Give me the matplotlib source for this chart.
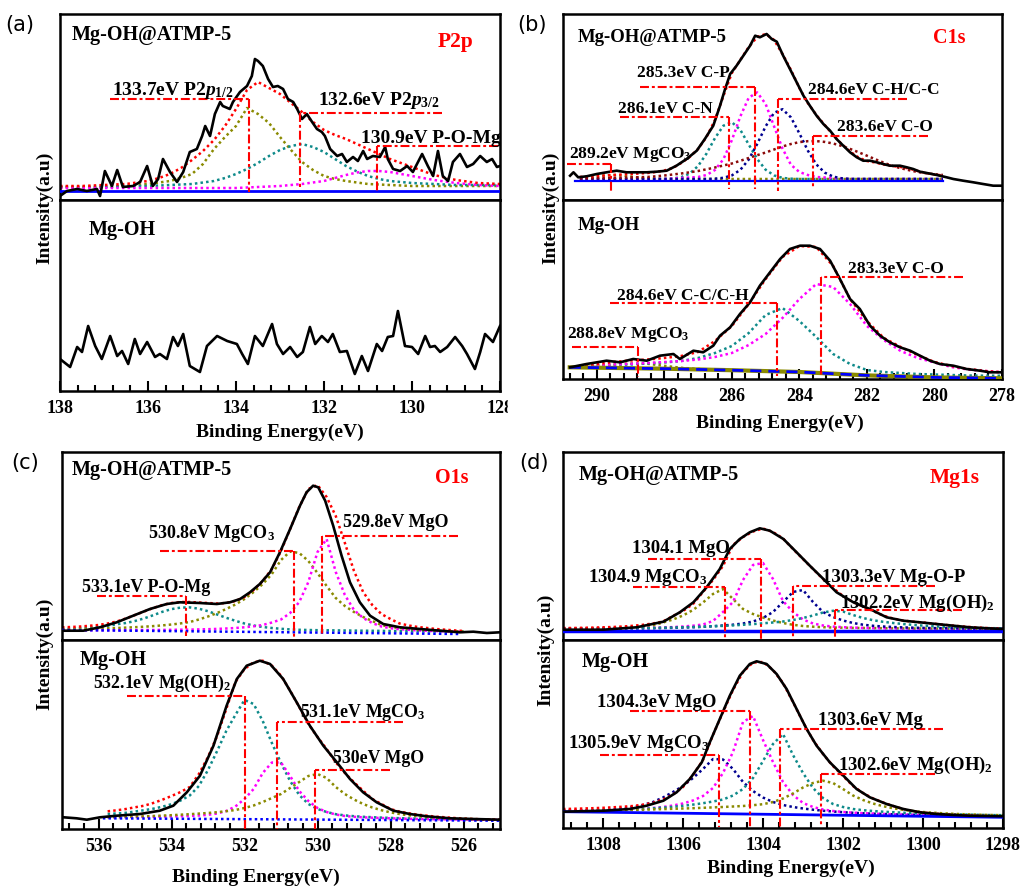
import matplotlib
matplotlib.use("Agg")
import matplotlib.pyplot as plt
from matplotlib.ticker import MultipleLocator, StrMethodFormatter
from matplotlib.patches import Rectangle

plt.rcParams['font.family'] = ['Liberation Serif', 'DejaVu Serif']
plt.rcParams['font.weight'] = 'bold'
plt.rcParams['mathtext.fontset'] = 'custom'
plt.rcParams['mathtext.rm'] = 'Liberation Serif:bold'
plt.rcParams['mathtext.it'] = 'Liberation Serif:italic:bold'
plt.rcParams['mathtext.bf'] = 'Liberation Serif:bold'
plt.rcParams['axes.linewidth'] = 1.8

# ====================== DATA ======================
# ---------- (a) P2p ----------
a_top_E = [138.00,137.84,137.61,137.39,137.16,137.09,136.98,136.82,136.70,136.57,136.34,136.18,136.02,135.89,135.77,135.66,135.50,135.34,135.20,135.05,134.89,134.77,134.70,134.59,134.48,134.36,134.30,134.14,134.07,133.91,133.75,133.64,133.57,133.50,133.39,133.27,133.16,133.05,132.93,132.82,132.70,132.61,132.50,132.39,132.27,132.16,132.05,131.98,131.86,131.70,131.59,131.48,131.34,131.23,131.11,131.02,130.89,130.73,130.61,130.55,130.43,130.27,130.11,129.98,129.77,129.64,129.52,129.41,129.30,129.18,129.07,128.91,128.75,128.61,128.45,128.30,128.18,128.07,128.00]
a_top_I = [4,9,11,9,11,4,29,14,30,13,14,18,34,14,21,41,28,18,28,48,51,64,74,64,86,98,94,91,98,108,114,124,141,139,134,121,113,114,111,101,98,91,81,86,78,71,68,64,51,44,46,38,43,39,49,41,44,43,53,41,31,29,34,28,46,34,24,49,24,19,38,46,33,36,44,38,41,33,34]
a_fit_E = [138.0,137.75,137.5,137.25,137.0,136.75,136.5,136.25,136.0,135.75,135.5,135.25,135.0,134.75,134.5,134.25,134.0,133.75,133.5,133.25,133.0,132.75,132.5,132.25,132.0,131.75,131.5,131.25,131.0,130.75,130.5,130.25,130.0,129.75,129.5,129.25,129.0,128.75,128.5,128.25,128.0]
a_p12 = [13,13,13,13,13,13.5,14,15,16,17.5,19,22,26,36,51,63,74,92,86,77,63,50,38,30,24,21,19,17.5,16,15.5,15,14.5,14,14,14,14,14,14,14,14,14]
a_p32 = [13,13,13,13,13,13.5,14,14,14,14.5,15,15.5,16,17.5,19,22,26,31,37,44,50,54,56,53,48,41,34,28.5,24,21,19,18,17,16.5,16,15.5,15,15,15,15,15]
a_pomg = [12,12,12,12,12,12,12,12,12,12,12,12,12,12,12,12,12,12.5,13,13.5,14,15,16,17.5,19,22,25,27.5,29,29,28,26,24,22,20,18.5,17,16,15,14.5,14]
a_env = [14,14,14,14.5,15,15.5,16,17.5,19,22,26,32,40,49,60,74,91,110,118,112,106,97,88,78,70,65,61,56,51,46,41,37,33,29,25,22.5,20,18.5,17,16.5,16]
a_base_E = [138.0, 128.0]
a_base_I = [9.5, 9.5]
a_bot_E = [138.00,137.77,137.61,137.50,137.36,137.20,137.05,136.86,136.70,136.59,136.45,136.30,136.18,136.02,135.84,135.73,135.57,135.43,135.32,135.20,135.05,134.82,134.66,134.43,134.20,133.98,133.86,133.73,133.57,133.39,133.18,133.07,132.93,132.77,132.61,132.48,132.32,132.20,132.05,131.91,131.80,131.64,131.48,131.30,131.14,131.00,130.80,130.68,130.55,130.43,130.32,130.16,130.00,129.86,129.70,129.59,129.48,129.36,129.20,129.02,128.86,128.75,128.57,128.45,128.34,128.16,128.00]
a_bot_I = [32,24,44,39,65,45,32,55,35,40,27,52,37,49,34,37,32,54,45,57,25,19,45,55,50,47,37,27,55,45,67,47,37,44,34,39,64,47,55,49,57,39,40,17,35,20,47,40,54,55,80,45,44,37,55,44,45,39,44,54,45,37,22,39,57,49,65]
a_peak_E = [133.7, 132.55, 130.8]
a_peak_lbl = [r'133.7eV P2$p_{1/2}$', r'132.6eV P2$p_{3/2}$', '130.9eV P-O-Mg']

# ---------- (b) C1s ----------
b_top_E = [290.79,290.69,290.55,290.30,290.00,289.71,289.41,289.12,288.82,288.52,288.23,287.93,287.64,287.34,287.04,286.80,286.55,286.35,286.20,286.05,285.86,285.66,285.46,285.31,285.17,284.97,284.82,284.67,284.48,284.28,284.08,283.88,283.69,283.49,283.29,283.09,282.90,282.70,282.50,282.30,282.11,281.91,281.71,281.52,281.32,281.02,280.82,280.63,280.43,280.23,279.93,279.64,279.44,279.15,278.85,278.56,278.26,277.99]
b_top_I = [24.3,27.7,22.7,23.7,26,27.7,29.3,27.7,27.7,27.7,28.3,29.3,34.3,41,49.3,61,74.3,94.3,111,126,134.3,144.3,154.3,164.3,162.7,166,161,158.3,144.3,131,117.7,104.3,94.3,84.3,76,69.3,61,54.3,47.7,42.7,39.3,39.3,37.7,36,34.3,34.3,32.7,31,28.3,27,25,22.7,21,19.3,17.7,16,14.3,14.3]
b_fit_E = [290.5,290.25,290.0,289.75,289.5,289.25,289.0,288.75,288.5,288.25,288.0,287.75,287.5,287.25,287.0,286.75,286.5,286.25,286.0,285.75,285.5,285.25,285.0,284.75,284.5,284.25,284.0,283.75,283.5,283.25,283.0,282.75,282.5,282.25,282.0,281.75,281.5,281.25,281.0,280.75,280.5,280.25,280.0,279.75]
b_mgco3 = [21.6,22.4,23.5,24.6,25.0,24.6,23.5,22.4,21.6,21.2,21,21,21,21,21,21,21,21,21,21,21,21,21,21,21,21,21,21,21,21,21,21,21,21,21,21,21,21,21,21,21,21,21,21]
b_cn = [21,21,21,21,21,21,21,21,21,21,21,21.5,22.8,26.4,34,46.4,61.9,74.3,77.8,70.2,55.5,41,30.3,24.6,22.1,21.3,21,21,21,21,21,21,21,21,21,21,21,21,21,21,21,21,21,21]
b_cp = [21,21,21,21,21,21,21,21,21,21,21,21.5,22,22.5,23,25,30,40.8,59.8,83.5,102.3,107.6,96.1,73.7,51.5,35.2,28,25,23,22.5,22,21.5,21,21,21,21,21,21,21,21,21,21,21,21]
b_ch = [21,21,21,21,21,21,21,21,21,21,21,21,21,21,21,21,21.3,22.2,24.6,30.1,40.5,56,73.6,87.2,90.8,82.6,66.6,49.4,35.7,27.4,23.4,21.7,21,21,21,21,21,21,21,21,21,21,21,21]
b_co = [21.5,21.6,21.8,22.0,22.2,22.4,22.6,22.8,23.0,23.7,24.5,25.5,26.5,27.7,29.0,30.7,32.5,34.5,36.5,39.2,42.0,44.8,47.5,50.5,53.5,56.0,57.9,58.8,58.9,58.1,56.5,54.1,51.1,47.8,44.3,40.7,37.3,34.1,31.8,29.8,28.0,26.8,25.8,25.0]
b_env = [23,23.5,24,24.5,25,25.5,26,26.5,27,28,29.5,32,37,43,51,63,80,104,127,140,153,163,166,160,146,130,112,97,85,75,65,56,48.5,42.5,39,37.5,35.5,34,33,31.5,29,27,25.5,24.5]
b_base_E = [290.64, 279.74]
b_base_I = [19.3, 19.3]
b_peak_E = [289.59, 286.08, 285.31, 284.62, 283.59]
b_peak_lbl = [r'289.2eV MgCO$_3$', '286.1eV C-N', '285.3eV C-P', '284.6eV C-H/C-C', '283.6eV C-O']

b_bot_E = [290.79,290.30,289.71,289.31,288.92,288.52,288.13,287.73,287.54,287.14,286.85,286.55,286.35,286.05,285.76,285.46,285.17,284.87,284.57,284.28,283.98,283.69,283.39,283.09,282.80,282.50,282.21,281.91,281.61,281.32,281.02,280.72,280.43,280.13,279.84,279.44,279.05,278.65,278.36,277.99]
b_bot_I = [11.7,15,18.3,16.7,20,18.3,23.3,25,20,28.3,26.7,33.3,43.3,51.7,65,76.7,93.3,106.7,120,130,133.3,133.3,130,118.3,100,80,70,53.3,43.3,36.7,31.7,28.3,23.3,18.3,15,13.3,10,8.3,6.7,6.7]
b2_fit_E = [290.5,290.0,289.5,289.0,288.5,288.0,287.5,287.0,286.5,286.0,285.5,285.0,284.5,284.0,283.5,283.0,282.5,282.0,281.5,281.0,280.5,280.0,279.5,279.0,278.5,278.0]
b2_cc = [13,13.5,14,14.5,15.5,16.5,18,21,26,33,46,64,71,58,42,25,15,9,7,6,5,4.5,4,3.5,3.3,3.2]
b2_co = [13.5,14,14.5,15.2,16,17,18,19.5,22,26,34,45,61,80,95,92,75,53,39,28,21,16.5,12,9.5,8,6.7]
b2_mgco3 = [12.5,13.2,14.2,15.5,15.2,13.2,11.2,10,9.3,8.9,8.5,8,7.4,6.7,6,5.2,4.5,3.9,3.3,2.8,2.3,1.9,1.5,1.2,1.0,0.8]
b2_env = [13,15,17,18.5,19.5,21,23,27,38,53,75,100,122,133,132,113,80,58,41,32,24,17,13,10,8,6.7]
b2_base_E = [290.8, 288.0, 286.0, 284.0, 282.0, 280.0, 278.0]
b2_base_I = [11.7, 10.3, 8.8, 7.0, 3.6, 1.6, 0.7]
b2_peak_E = [288.77, 284.65, 283.36]
b2_peak_lbl = [r'288.8eV MgCO$_3$', '284.6eV C-C/C-H', '283.3eV C-O']

# ---------- (c) O1s ----------
c_top_E = [537.0,536.42,535.96,535.50,535.05,534.59,534.13,533.77,533.22,532.76,532.40,532.12,531.85,531.58,531.30,531.03,530.75,530.48,530.30,530.12,529.98,529.79,529.57,529.34,529.11,528.84,528.56,528.20,527.74,527.19,526.64,526.10,525.73,525.36,525.00]
c_top_I = [9.3,9.3,12.7,17.7,24.3,31,36,37.7,37,36,37.7,41,47.7,56,67.7,87.7,111,134.3,147.7,154.3,152.7,139.3,114.3,84.3,57.7,37.7,24.3,16,12.7,11,9.3,7.7,8.3,7,7.7]
c_fit_E = [537.0,536.75,536.5,536.25,536.0,535.75,535.5,535.25,535.0,534.75,534.5,534.25,534.0,533.75,533.5,533.25,533.0,532.75,532.5,532.25,532.0,531.75,531.5,531.25,531.0,530.75,530.5,530.25,530.0,529.75,529.5,529.25,529.0,528.75,528.5,528.25,528.0,527.75,527.5,527.25,527.0,526.75,526.5,526.25,526.0]
c_pomg = [11,11.3,11.8,12.4,13.2,14.2,15.8,17,19,21.6,24.8,28.2,30.9,32.4,32.6,31.3,28.8,25.5,22.2,19.2,16.5,14.5,13,12,11.2,10.6,10.2,10,9.8,9.7,9.6,9.5,9.4,9.3,9.2,9.1,9,8.9,8.8,8.7,8.6,8.5,8.4,8.3,8.2]
c_mgco3 = [10.5,10.7,10.9,11.1,11.4,11.7,12,12.4,12.8,13.3,13.9,14.6,15.5,16.6,18,20.5,23.5,27,31,35.5,41,48,56,66,80,88.5,87,79,67,54,42,34,28,23,19,15,13,12,11,10.3,9.8,9.4,9,8.7,8.5]
c_mgo = [9.8,9.8,9.8,9.8,9.8,9.8,9.8,9.9,9.9,10,10,10.1,10.2,10.3,10.4,10.6,10.8,11.1,11.5,12,12.7,13.7,15,17.5,20.5,27,38,58,88,101,68,45,30,22,17,13.5,11.8,10.8,10.2,9.6,9.2,8.9,8.6,8.4,8.2]
c_env = [12.7,13,13.5,14.2,15,16.5,18.5,21.5,25,28.5,32,35,37,38,38,37.5,37,36.5,37,39,43,50,59,71,89,111,133,151,155,143,124,97,69,48,35,26,21,16.5,14.5,13,12,11,10.3,9.6,9]
c_base_E = [537.0, 526.1]
c_base_I = [10, 6]
c_peak_E = [533.61, 530.64, 529.87]
c_peak_lbl = ['533.1eV P-O-Mg', r'530.8eV MgCO$_3$', '529.8eV MgO']

c_bot_E = [536.96,536.60,536.32,535.96,535.50,534.86,534.32,533.95,533.58,533.22,532.85,532.49,532.21,531.94,531.58,531.30,530.94,530.57,530.21,529.84,529.47,529.11,528.75,528.38,527.92,527.47,527.01,526.37,525.73,525.00]
c_bot_I = [11.7,10.7,9.3,11.7,13.3,15,18.3,23.3,36.7,53.3,83.3,123.3,150,163.3,168.3,165,150,126.7,103.3,83.3,66.7,50,36.7,26.7,18.3,15,12.7,10.7,10,9.3]
c2_fit_E = [535.75,535.5,535.25,535.0,534.75,534.5,534.25,534.0,533.75,533.5,533.25,533.0,532.75,532.5,532.25,532.0,531.75,531.5,531.25,531.0,530.75,530.5,530.25,530.0,529.75,529.5,529.25,529.0,528.75,528.5,528.25,528.0,527.75,527.5,527.25,527.0,526.75,526.5,526.25,526.0,525.75,525.5,525.25,525.0]
c2_mgoh2 = [15,15.5,16.2,17.5,18.8,20.3,22.3,24.8,28.5,33.5,43,59,78,98,114,129,125,108,86,66,48,34,25,20,17,14.8,13.6,12.8,12.2,11.8,11.4,11.1,10.8,10.6,10.4,10.2,10,9.9,9.8,9.7,9.6,9.5,9.4,9.3]
c2_mgco3 = [11.7,11.8,11.9,12,12.1,12.2,12.4,12.6,12.8,13.1,13.5,14.2,15.5,18,22.5,30,40,56,66.5,66.5,53,38,28,21,17,14.5,13,12.2,11.7,11.3,11,10.7,10.4,10.2,10,9.9,9.8,9.7,9.6,9.5,9.5,9.4,9.3,9.3]
c2_mgo = [11.7,11.9,12.1,12.4,12.7,13,13.4,13.8,14.3,14.8,15.4,16,16.8,17.8,19,21,23.5,27,31,35,41,47,53,55,51,42,35,29.5,25,21.5,18.8,16.6,15,13.7,12.8,12,11.4,10.9,10.5,10.2,9.9,9.7,9.5,9.3]
c2_env = [17.7,18.7,20,21.7,23.3,26,29.3,33,37,42,55,72,93,120,147,160,166.7,168.3,163.3,153.3,138.3,122,105,92,80,66.7,56,46.7,38.3,30,25,20,17.3,15.7,14.3,13.3,12.3,11.7,11,10.3,10,9.7,9.3,9.3]
c2_base_E = [535.88, 525.0]
c2_base_I = [10.7, 8.3]
c2_peak_E = [531.99, 531.12, 530.07]
c2_peak_lbl = [r'532.1eV Mg(OH)$_2$', r'531.1eV MgCO$_3$', '530eV MgO']

# ---------- (d) Mg1s ----------
d_top_E = [1309.0,1307.99,1307.16,1306.49,1306.08,1305.74,1305.41,1305.08,1304.83,1304.58,1304.33,1304.08,1303.83,1303.49,1303.16,1302.83,1302.49,1302.16,1301.74,1301.33,1300.91,1300.49,1300.08,1299.66,1299.24,1298.83,1298.41,1297.99]
d_top_I = [10.3,10.3,12.7,18.3,27.7,37.7,52.7,71,91,101,107.7,111.7,109.3,101,87.7,74.3,61,47.7,37.7,31,22.7,19.3,17.7,16,14.3,12.7,11.7,11]
d_fit_E = [1309.0,1308.75,1308.5,1308.25,1308.0,1307.75,1307.5,1307.25,1307.0,1306.75,1306.5,1306.25,1306.0,1305.75,1305.5,1305.25,1305.0,1304.75,1304.5,1304.25,1304.0,1303.75,1303.5,1303.25,1303.0,1302.75,1302.5,1302.25,1302.0,1301.75,1301.5,1301.25,1301.0,1300.75,1300.5,1300.25,1300.0,1299.75,1299.5,1299.25,1299.0,1298.75,1298.5,1298.25,1298.0]
d_mgco3 = [11.5,11.5,11.6,11.7,11.8,12,12.3,12.7,13.2,14.5,17.5,20.5,24.5,30,37.5,46,51,41,31,26,22.5,19.5,17,15.2,14,13.3,12.8,12.5,12.3,12.1,12,11.9,11.8,11.7,11.6,11.5,11.5,11.4,11.4,11.3,11.3,11.2,11.2,11.2,11.1]
d_mgo = [11.3,11.3,11.4,11.4,11.5,11.6,11.7,11.8,12,12.2,12.5,12.9,13.5,14.3,15.5,19,28,38,60,75,77,61,39,28,20.5,16.5,14.5,13.4,12.8,12.4,12.1,11.9,11.8,11.7,11.6,11.5,11.4,11.4,11.3,11.3,11.2,11.2,11.2,11.1,11.1]
d_mgop = [11.2,11.2,11.2,11.3,11.3,11.4,11.5,11.6,11.7,11.8,12,12.2,12.5,12.8,13.2,13.8,14.5,15.3,16.5,18.5,22,28,38,48,50,38,28,23,19.5,17,15.3,14.2,13.5,13,12.6,12.3,12.1,11.9,11.8,11.7,11.6,11.5,11.5,11.4,11.4]
d_mgoh2 = [11.2,11.2,11.3,11.3,11.4,11.5,11.6,11.7,11.8,12,12.2,12.4,12.7,13,13.3,13.7,14.1,14.6,15.2,15.9,16.7,17.5,18.5,20,22,24.5,27.5,29.2,28.5,25,22,19.8,18.2,17,16,15.1,14.4,13.8,13.3,12.9,12.5,12.2,12,11.8,11.7]
d_env = [12,12,12.2,12.4,12.7,13,13.5,14.2,15.2,16.5,18.5,24,29,36,48,60,74,95,103,108.5,111.5,108,101.5,91,81,71,61,52,44,38,33.5,29,24.5,21.5,19.5,18.3,17.5,16.4,15.3,14.4,13.5,12.8,12.2,11.7,11.2]
d_base_E = [1309.0, 1298.0]
d_base_I = [9.3, 9.3]
d_peak_E = [1304.06, 1304.95, 1303.24, 1302.2]
d_peak_lbl = ['1304.1 MgO', r'1304.9 MgCO$_3$', '1303.3eV Mg-O-P', r'1302.2eV Mg(OH)$_2$']

d_bot_E = [1309.0,1307.99,1307.33,1306.91,1306.49,1306.16,1305.83,1305.53,1305.33,1305.08,1304.83,1304.58,1304.33,1304.16,1303.91,1303.66,1303.41,1303.16,1302.91,1302.66,1302.33,1301.99,1301.66,1301.33,1300.91,1300.49,1300.08,1299.66,1299.24,1298.83,1297.99]
d_bot_I = [16.3,17.3,19,22.3,27.3,35.7,49,65.7,85.7,109,132.3,152.3,164,166.7,164,154,139,119,99,82.3,65.7,52.3,39,30.7,24,19,15.7,14,13,12.3,11.7]
d2_mgco3 = [17.3,17.4,17.6,17.8,18.1,18.5,19.5,21,23,26,30.5,36,42,50,59,69,68.5,59,46,37,30.5,26,23,21,19.5,18.3,17.3,16.5,15.8,15.2,14.7,14.3,14,13.7,13.4,13.2,13,12.8,12.6,12.4,12.2,12,11.9,11.8,11.7]
d2_mgo = [17.3,17.4,17.5,17.6,17.8,18,18.3,18.7,19.2,20,21,22.5,24.5,27.5,32,40,55,76,106,112,88,66,46,33,25,21,18.5,17,16,15.3,14.8,14.4,14,13.7,13.4,13.2,13,12.8,12.6,12.4,12.2,12,11.9,11.8,11.7]
d2_mg = [16.3,16.5,16.7,17,17.3,17.7,18.1,18.6,19.1,19.7,20.4,21.2,22.2,23.4,24.8,26.5,28.5,32.5,39,50,67,84,94,73,55,40,30,24,21,19,17.8,17,16.3,15.8,15.3,15,14.6,14.3,14,13.7,13.5,13.3,13.1,12.9,12.8]
d2_mgoh2 = [17,17.1,17.2,17.3,17.4,17.6,17.8,18,18.3,18.6,18.9,19.2,19.5,19.8,20.2,20.6,21,21.5,22,22.8,23.8,26,29.5,34.5,40.5,45,47.3,45,39,32.5,28,24.5,21.8,19.8,18.2,17,16,15.3,14.7,14.2,13.8,13.5,13.2,13,12.8]
d2_env = [19,19.2,19.5,19.8,20.2,20.7,21.3,22,23.3,25.2,28.5,33.5,41,53,68,93,116,138,156,165.5,166,158,145,126,106,88,74,62,52,42,35,29.5,25.5,22,19,17,15.5,14.5,13.8,13.2,12.7,12.3,12,11.8,11.6]
d2_base_E = [1309.0, 1298.0]
d2_base_I = [16.3, 10.7]
d2_peak_E = [1304.33, 1305.1, 1303.58, 1302.55]
d2_peak_lbl = ['1304.3eV MgO', r'1305.9eV MgCO$_3$', '1303.6eV Mg', r'1302.6eV Mg(OH)$_2$']

# ====================== STYLE / LAYOUT ======================
OLIVE = '#8a8a00'
TEAL = '#0e8a8a'
MAG = '#ff00ff'
NAVY = '#000090'
MAROON = '#8b0a0a'
RED = '#ff0000'
BLUE = '#0000ff'

W, H = 1021, 887
fig = plt.figure(figsize=(W / 100, H / 100), dpi=100)


def add_ax(x0, y0, x1, y1, xlim, bottom):
    ax = fig.add_axes([x0 / W, 1 - y1 / H, (x1 - x0) / W, (y1 - y0) / H])
    ax.set_xlim(*xlim)
    ax.set_ylim(0, y1 - y0)
    ax.set_yticks([])
    if bottom:
        ax.xaxis.set_major_locator(MultipleLocator(2))
        ax.xaxis.set_minor_locator(MultipleLocator(0.4))
        ax.xaxis.set_major_formatter(StrMethodFormatter('{x:.0f}'))
        ax.tick_params(axis='x', which='both', direction='in', top=False,
                       bottom=True, width=1.5, labelsize=13, pad=6)
        ax.tick_params(axis='x', which='major', length=7)
        ax.tick_params(axis='x', which='minor', length=4)
        for lb in ax.get_xticklabels():
            lb.set_fontweight('bold')
    else:
        ax.set_xticks([])
    return ax


DOT = (0, (1, 1.25))
DASHDOT = (0, (4.3, 1.4, 1.4, 1.4))


def comp(ax, E, I, color, lw=1.8):
    ax.plot(E, I, color=color, ls=DOT, lw=lw, zorder=2)


def raw(ax, E, I):
    ax.plot(E, I, color='black', lw=1.9, zorder=4, solid_joinstyle='round')


def marks(ax, peaks, labels, layout, fs):
    for e, lbl, (ytop, xend, ybot, tx, ty) in zip(peaks, labels, layout):
        ax.plot([xend, e], [ytop, ytop], color=RED, lw=1.5, ls=DASHDOT, zorder=5)
        ax.plot([e, e], [ytop, ybot], color=RED, lw=1.5, ls=DASHDOT, zorder=5)
        ax.text(tx, ty, lbl, fontsize=fs, ha='left', va='baseline', zorder=6,
                fontweight='bold')


def name(ax, x, y, s, fs=14.5, color='black'):
    ax.text(x, y, s, fontsize=fs, ha='left', va='baseline', color=color,
            fontweight='bold', zorder=6)


# ---------- (a) ----------
ax = add_ax(60, 15, 500, 201, (138, 128), False)
ax.plot(a_base_E, a_base_I, color=BLUE, lw=2, zorder=3)
comp(ax, a_fit_E, a_p12, OLIVE)
comp(ax, a_fit_E, a_p32, TEAL)
comp(ax, a_fit_E, a_pomg, MAG)
comp(ax, a_fit_E, a_env, RED)
raw(ax, a_top_E, a_top_I)
marks(ax, a_peak_E, a_peak_lbl,
      [(101, 136.86, 8, 136.82, 106), (87, 129.32, 13, 132.14, 96),
       (54, 128.05, 8, 131.15, 58.3)], 14)
name(ax, 137.73, 161, 'Mg-OH@ATMP-5')
name(ax, 129.41, 154.3, 'P2p', fs=15.5, color=RED)

ax = add_ax(60, 201, 500, 392, (138, 128), True)
raw(ax, a_bot_E, a_bot_I)
name(ax, 137.34, 157, 'Mg-OH')

# ---------- (b) ----------
ax = add_ax(563, 15, 1002, 201, (291, 278), False)
ax.plot(b_base_E, b_base_I, color=BLUE, lw=1.6, zorder=3)
comp(ax, b_fit_E, b_mgco3, OLIVE)
comp(ax, b_fit_E, b_cn, TEAL)
comp(ax, b_fit_E, b_cp, MAG)
comp(ax, b_fit_E, b_ch, NAVY)
comp(ax, b_fit_E, b_co, MAROON)
comp(ax, b_fit_E, b_env, RED)
raw(ax, b_top_E, b_top_I)
marks(ax, b_peak_E, b_peak_lbl,
      [(36, 290.89, 9.3, 290.81, 42.7), (82.7, 289.31, 11, 289.36, 87.7),
       (112.7, 288.72, 11, 288.82, 124.3), (101, 280.82, 9, 283.74, 106.7),
       (64.3, 280.18, 11, 282.9, 70)], 12.5)
name(ax, 290.55, 159.3, 'Mg-OH@ATMP-5', fs=13.5)
name(ax, 280.03, 157.7, 'C1s', fs=14.5, color=RED)

ax = add_ax(563, 201, 1002, 380, (291, 278), True)
ax.plot(b2_base_E, b2_base_I, color=OLIVE, lw=3, zorder=3)
ax.plot(b2_base_E, b2_base_I, color=BLUE, lw=2, ls=(0, (4, 2.5)), zorder=3)
comp(ax, b2_fit_E, b2_mgco3, OLIVE)
comp(ax, b2_fit_E, b2_cc, TEAL)
comp(ax, b2_fit_E, b2_co, MAG)
comp(ax, b2_fit_E, b2_env, RED)
raw(ax, b_bot_E, b_bot_I)
marks(ax, b2_peak_E, b2_peak_lbl,
      [(32.3, 290.74, 1.7, 290.89, 41.7), (76, 289.61, 3.3, 289.41, 80),
       (102.3, 279.15, 3.3, 282.55, 107.3)], 12.5)
name(ax, 290.55, 150, 'Mg-OH', fs=13.5)

# ---------- (c) ----------
ax = add_ax(62, 453, 500, 641, (537, 525), False)
ax.plot(c_base_E, c_base_I, color=BLUE, lw=1.8, ls=DOT, zorder=3)
comp(ax, c_fit_E, c_pomg, TEAL)
comp(ax, c_fit_E, c_mgco3, OLIVE)
comp(ax, c_fit_E, c_mgo, MAG)
comp(ax, c_fit_E, c_env, RED)
raw(ax, c_top_E, c_top_I)
marks(ax, c_peak_E, c_peak_lbl,
      [(43.7, 536.05, 4.3, 536.46, 49.3), (89.3, 534.32, 0, 534.64, 103.3),
       (104.3, 526.14, 4.3, 529.29, 114.3)], 13)
name(ax, 536.73, 166, 'Mg-OH@ATMP-5')
name(ax, 526.78, 157.7, 'O1s', fs=14.5, color=RED)

ax = add_ax(62, 641, 500, 830, (537, 525), True)
ax.plot(c2_base_E, c2_base_I, color=BLUE, lw=1.8, ls=DOT, zorder=3)
comp(ax, c2_fit_E, c2_mgoh2, TEAL)
comp(ax, c2_fit_E, c2_mgco3, MAG)
comp(ax, c2_fit_E, c2_mgo, OLIVE)
comp(ax, c2_fit_E, c2_env, RED)
raw(ax, c_bot_E, c_bot_I)
marks(ax, c2_peak_E, c2_peak_lbl,
      [(133.3, 535.23, 0, 536.14, 141.7), (106.7, 527.65, 0, 530.48, 113.3),
       (59, 528.01, 0, 529.57, 67.3)], 12.8)
name(ax, 536.51, 165, 'Mg-OH')

# ---------- (d) ----------
ax = add_ax(563, 453, 1003, 641, (1309, 1298), False)
ax.plot(d_base_E, d_base_I, color=BLUE, lw=2.5, zorder=3)
comp(ax, d_fit_E, d_mgco3, OLIVE)
comp(ax, d_fit_E, d_mgo, MAG)
comp(ax, d_fit_E, d_mgop, NAVY)
comp(ax, d_fit_E, d_mgoh2, TEAL)
comp(ax, d_fit_E, d_env, RED)
raw(ax, d_top_E, d_top_I)
marks(ax, d_peak_E, d_peak_lbl,
      [(81, 1306.87, 0, 1307.28, 87.7), (52.7, 1307.24, 0, 1308.37, 59.3),
       (54.3, 1299.7, 0, 1302.53, 59.3), (30.3, 1299.03, 0, 1302.08, 32.7)], 13.5)
name(ax, 1308.62, 161, 'Mg-OH@ATMP-5')
name(ax, 1299.83, 157.7, 'Mg1s', fs=15.5, color=RED)

ax = add_ax(563, 641, 1003, 829, (1309, 1298), True)
ax.plot(d2_base_E, d2_base_I, color=BLUE, lw=2, zorder=3)
comp(ax, d_fit_E, d2_mgco3, NAVY)
comp(ax, d_fit_E, d2_mgo, MAG)
comp(ax, d_fit_E, d2_mg, TEAL)
comp(ax, d_fit_E, d2_mgoh2, OLIVE)
comp(ax, d_fit_E, d2_env, RED)
raw(ax, d_bot_E, d_bot_I)
marks(ax, d2_peak_E, d2_peak_lbl,
      [(117.3, 1307.33, 0.7, 1308.16, 122.3), (73, 1308.08, 0.7, 1308.87, 80.7),
       (99, 1299.49, 0.7, 1302.62, 104), (54, 1299.7, 0.7, 1302.12, 59)], 13.5)
name(ax, 1308.53, 161.7, 'Mg-OH')

# ---------- figure-level labels ----------
def ftext(px, py, s, **kw):
    fig.text(px / W, 1 - py / H, s, **kw)


for px, py in [(280, 432), (780, 423), (256, 877), (791, 868)]:
    ftext(px, py, 'Binding Energy(eV)', fontsize=14, fontweight='bold',
          ha='center', va='center')
for px, py in [(45, 208), (551, 208), (45, 654), (546, 650)]:
    ftext(px, py, 'Intensity(a.u)', fontsize=14, fontweight='bold',
          rotation=90, ha='center', va='center')
for px, py, s in [(20, 25, '(a)'), (532, 25, '(b)'), (25, 463, '(c)'), (534, 463, '(d)')]:
    ftext(px, py, s, fontsize=15, fontweight='normal', family='DejaVu Sans',
          ha='center', va='center')

# crop edge of panel (a) as in the source image
fig.add_artist(Rectangle((508 / W, 1 - 420 / H), 12 / W, 25 / H,
                         transform=fig.transFigure, color='white', zorder=20))

fig.savefig('out.png', dpi=100)
